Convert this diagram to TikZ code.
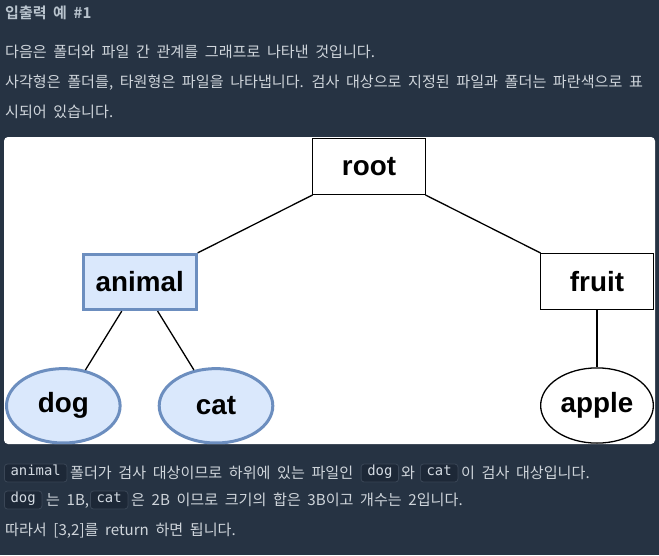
\documentclass[tikz,border=0pt]{standalone}
\usepackage{fontspec}
\setmainfont{Liberation Sans}
\newfontfamily\kr{Noto Sans CJK KR}[BoldFont = * Bold, WordSpace=1.95]
\newfontfamily\codefont{DejaVu Sans Mono}
\usetikzlibrary{shapes.geometric}
\definecolor{bg}{HTML}{263343}
\definecolor{txt}{HTML}{CFD5DB}
\definecolor{headtxt}{HTML}{B9C4CE}
\definecolor{codebg}{HTML}{1D2837}
\definecolor{codeborder}{HTML}{3A4656}
\definecolor{codetxt}{HTML}{D3DAE2}
\definecolor{bluefill}{HTML}{DAE8FC}
\definecolor{blueline}{HTML}{6C8EBF}
\tikzset{
  krtext/.style={font=\kr\fontsize{15.1}{18}\selectfont, text=txt, inner sep=0pt, anchor=base west},
  krhead/.style={font=\kr\bfseries\fontsize{15}{18}\selectfont, text=headtxt, inner sep=0pt, anchor=base west},
  codebox/.style={font=\codefont\fontsize{13.9}{16}\selectfont, text=codetxt, fill=codebg, draw=codeborder, line width=0.8pt, rounded corners=3pt, inner xsep=6.2pt, inner ysep=0pt, minimum height=18pt, text height=0.7em, text depth=0.2em, anchor=west},
  diag/.style={font=\bfseries\fontsize{27.8}{30}\selectfont, text=black, inner sep=0pt},
  folder/.style={diag, draw=black, line width=1.3pt, fill=white, minimum width=112.7pt, minimum height=55.7pt},
  selfolder/.style={diag, draw=blueline, line width=3pt, fill=bluefill, minimum width=113pt, minimum height=55.3pt},
  file/.style={diag, ellipse, draw=black, line width=1.3pt, fill=white, minimum width=112.7pt, minimum height=75.2pt},
  selfile/.style={diag, ellipse, draw=blueline, line width=3pt, fill=bluefill, minimum width=113.6pt, minimum height=74.4pt},
  edge/.style={draw=black, line width=1.3pt}
}
\begin{document}
\begin{tikzpicture}[x=1pt,y=-1pt]
\useasboundingbox (0,0) rectangle (659,555);
\fill[bg] (0,0) rectangle (659,555);
% heading and intro
\node[krhead] (head) at (5,18.5) {입출력 예 \#1};
\node[krtext] (l1) at (5,57.5) {다음은 폴더와 파일 간 관계를 그래프로 나타낸 것입니다.};
\node[krtext] (l2) at (5,87.5) {사각형은 폴더를, 타원형은 파일을 나타냅니다. 검사 대상으로 지정된 파일과 폴더는 파란색으로 표};
\node[krtext] (l3) at (5,117.5) {시되어 있습니다.};
% white panel
\fill[white, rounded corners=4pt] (4,137) rectangle (655,444);
\begin{scope}
\clip[rounded corners=4pt] (4,137) rectangle (655,444);
\node[folder] (root) at (369,166.5) {root};
\node[selfolder] (animal) at (139.7,282) {animal};
\node[folder] (fruit) at (597,281.5) {fruit};
\node[selfile] (dog) at (63.3,405.8) {dog};
\node[selfile] (cat) at (216,405.8) {cat};
\node[file] (apple) at (597,405.5) {apple};
\draw[edge] (root) -- (animal);
\draw[edge] (root) -- (fruit);
\draw[edge] (animal) -- (dog);
\draw[edge] (animal) -- (cat);
\draw[edge] (fruit) -- (apple);
\end{scope}
% explanation
\node[codebox] (c1) at (4,473) {animal};
\node[krtext] (t1) at (70,478.7) {폴더가 검사 대상이므로 하위에 있는 파일인};
\node[codebox] (c2) at (360.7,473) {dog};
\node[krtext] (t2) at (401,478.7) {와};
\node[codebox] (c3) at (420,473) {cat};
\node[krtext] (t3) at (461,478.7) {이 검사 대상입니다.};
\node[codebox] (c4) at (4,500) {dog};
\node[krtext] (t4) at (46,505.7) {는 1B,};
\node[codebox] (c5) at (90,500) {cat};
\node[krtext] (t5) at (131,505.7) {은 2B 이므로 크기의 합은 3B이고 개수는 2입니다.};
\node[krtext] (t6) at (5,535.7) {따라서 [3,2]를 return 하면 됩니다.};
\end{tikzpicture}
\end{document}
